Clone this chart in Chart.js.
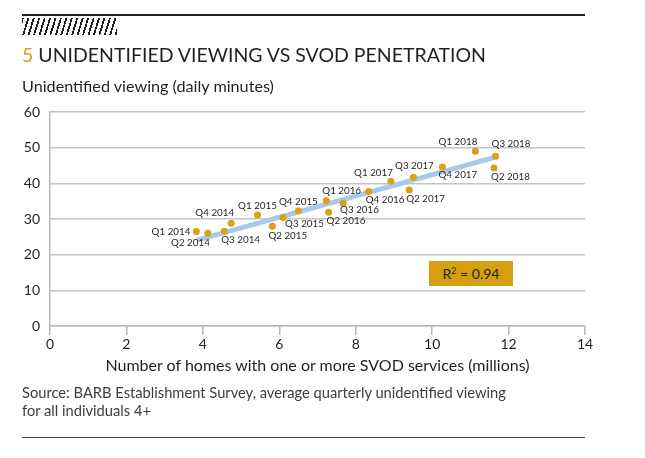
<!DOCTYPE html>
<html>
<head>
<meta charset="utf-8">
<script src="https://cdn.jsdelivr.net/npm/chart.js@4.4.1/dist/chart.umd.min.js"></script>
<style>
  html, body { margin: 0; padding: 0; background: #ffffff; }
  #wrap { position: relative; width: 645px; height: 458px; overflow: hidden; font-family: Lato, "Noto Sans", sans-serif; color: #231f20; }
  #chart { position: absolute; left: 0; top: 0; }
  .abs { position: absolute; white-space: nowrap; line-height: 1; }
  #topline { position: absolute; left: 22px; top: 14px; width: 563px; height: 2px; background: #231f20; }
  #hatch { position: absolute; left: 22px; top: 17.5px; width: 95px; height: 17px;
           background: repeating-linear-gradient(107deg, #231f20 0 1.8px, transparent 1.8px 5.2px); }
  #title { left: 22px; top: 45px; font-size: 19.5px; }
  #title .num { color: #d9a01a; }
  #ytitle { left: 22px; top: 78.2px; font-size: 16.2px; }
  #xtitle { left: 50px; width: 535px; text-align: center; top: 357.2px; font-size: 16px; }
  #source { left: 22px; top: 384.4px; font-size: 14.7px; line-height: 17.3px; color: #3d3d3d; }
  #bottomline { position: absolute; left: 22px; top: 437px; width: 563px; height: 1px; background: #444; }
  #r2 { position: absolute; left: 429px; top: 261px; width: 84px; height: 25px; background: #d69f12;
        font-size: 14px; line-height: 25px; text-align: center; color: #231f20; }
  #r2 sup { font-size: 9px; vertical-align: 0; position: relative; top: -5px; }
</style>
</head>
<body>
<div id="wrap">
  <canvas id="chart" width="645" height="458"></canvas>
  <div id="topline"></div>
  <div id="hatch"></div>
  <div id="title" class="abs"><span class="num">5</span> UNIDENTIFIED VIEWING VS SVOD PENETRATION</div>
  <div id="ytitle" class="abs">Unidentified viewing (daily minutes)</div>
  <div id="xtitle" class="abs">Number of homes with one or more SVOD services (millions)</div>
  <div id="source" class="abs">Source: BARB Establishment Survey, average quarterly unidentified viewing<br>for all individuals 4+</div>
  <div id="bottomline"></div>
  <div id="r2">R<sup>2</sup> = 0.94</div>
</div>
<script>
// ---- data ----
const quarters = ['Q1 2014','Q2 2014','Q3 2014','Q4 2014','Q1 2015','Q2 2015','Q3 2015','Q4 2015',
                  'Q1 2016','Q2 2016','Q3 2016','Q4 2016','Q1 2017','Q2 2017','Q3 2017','Q4 2017',
                  'Q1 2018','Q2 2018','Q3 2018'];
const svodHomesMillions = [3.83, 4.13, 4.56, 4.74, 5.43, 5.82, 6.10, 6.50,
                           7.23, 7.29, 7.67, 8.34, 8.92, 9.40, 9.51, 10.27,
                           11.13, 11.62, 11.66];
const unidentifiedMinutes = [26.5, 26.0, 26.6, 28.8, 31.1, 28.0, 30.4, 32.3,
                             35.1, 31.9, 34.4, 37.7, 40.6, 38.1, 41.7, 44.6,
                             49.0, 44.3, 47.6];
const trendX = [3.85, 11.63];
const trendY = [24.1, 47.3];
const xTickValues = [0, 2, 4, 6, 8, 10, 12, 14];
const yTickValues = [0, 10, 20, 30, 40, 50, 60];

// label placement style per point: [textAlign, dx, dy]
const labelPlacement = [
  ['right', -6, 0], ['right', 2, 10], ['left', -3, 9], ['right', 3, -10],
  ['center', 0, -9], ['left', -4, 10], ['left', 2, 6], ['center', 0, -9],
  ['left', -4, -10], ['left', -2, 9], ['left', -3, 7], ['left', -3, 8],
  ['right', 2, -8], ['left', -3, 9], ['center', 1, -11], ['left', -4, 8],
  ['right', 2, -9], ['left', -3, 9], ['left', -4, -12]
];

const pointLabels = {
  id: 'pointLabels',
  afterDatasetsDraw(chart) {
    const meta = chart.getDatasetMeta(0);
    const ctx = chart.ctx;
    ctx.save();
    ctx.font = '9.8px Lato, "Noto Sans", sans-serif';
    ctx.fillStyle = '#231f20';
    ctx.textBaseline = 'middle';
    meta.data.forEach((pt, i) => {
      const p = labelPlacement[i];
      ctx.textAlign = p[0];
      ctx.fillText(quarters[i], pt.x + p[1], pt.y + p[2]);
    });
    ctx.restore();
  }
};

function build() {
  const points = svodHomesMillions.map((x, i) => ({ x: x, y: unidentifiedMinutes[i] }));
  const trend = trendX.map((x, i) => ({ x: x, y: trendY[i] }));
  const tickFont = { family: 'Lato, "Noto Sans", sans-serif', size: 14 };
  new Chart(document.getElementById('chart'), {
    type: 'scatter',
    data: {
      datasets: [
        { data: points, order: 0, backgroundColor: '#dba014', borderColor: '#dba014',
          pointRadius: 3.5, pointBorderWidth: 0, pointHoverRadius: 3.5 },
        { type: 'line', data: trend, order: 1, borderColor: '#a6c9ec', borderWidth: 5,
          pointRadius: 0, fill: false, showLine: true, borderCapStyle: 'butt' }
      ]
    },
    options: {
      responsive: false,
      animation: false,
      events: [],
      layout: { padding: { left: 0, top: 112, right: 60, bottom: 102 } },
      plugins: { legend: { display: false }, tooltip: { enabled: false } },
      scales: {
        x: {
          type: 'linear', min: 0, max: 14,
          afterBuildTicks: s => { s.ticks = xTickValues.map(v => ({ value: v })); },
          afterFit: s => { s.height = 30; },
          ticks: { font: tickFont, color: '#231f20', padding: 1, maxRotation: 0 },
          grid: { drawOnChartArea: false, drawTicks: true, tickLength: 9, color: '#b8b8b8', lineWidth: 1.5 },
          border: { color: '#b8b8b8', width: 1.5 }
        },
        y: {
          type: 'linear', min: 0, max: 60,
          afterBuildTicks: s => { s.ticks = yTickValues.map(v => ({ value: v })); },
          afterFit: s => { s.width = 50; },
          ticks: { font: tickFont, color: '#231f20', padding: 10 },
          grid: { drawTicks: false, color: '#c4c4c4', lineWidth: 1.5 },
          border: { color: '#b8b8b8', width: 1.5 }
        }
      }
    },
    plugins: [pointLabels]
  });
}

(document.fonts && document.fonts.load ? Promise.all([
  document.fonts.load('14px Lato'), document.fonts.load('9.8px Lato')
]) : Promise.resolve()).then(build, build);
</script>
</body>
</html>
